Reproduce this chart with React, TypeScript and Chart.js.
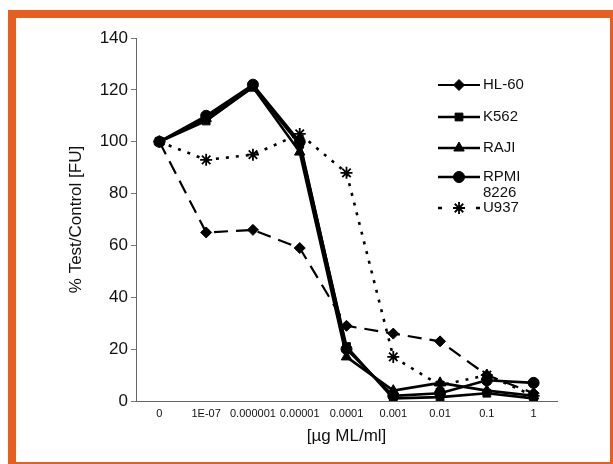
import React, { useEffect, useRef } from "react";
import { Chart, registerables } from "chart.js";
import { drawPoint } from "chart.js/helpers";

Chart.register(...registerables);

const categories = ["0", "1E-07", "0.000001", "0.00001", "0.0001", "0.001", "0.01", "0.1", "1"];
const seriesNames = ["HL-60", "K562", "RAJI", "RPMI\n8226", "U937"];
const hl60 = [100, 65, 66, 59, 29, 26, 23, 10, 3];
const k562 = [100, 108, 121, 99, 21, 1, 1.5, 3, 1];
const raji = [100, 109, 121, 96, 17, 4, 7, 4, 2];
const rpmi = [100, 110, 122, 100, 20, 2, 3, 8, 7];
const u937 = [100, 93, 95, 103, 88, 17, 6, 10, 2];
const yTicks = [0, 20, 40, 60, 80, 100, 120, 140];

const FONT = "'Liberation Sans', Arial, sans-serif";

const legendPlugin = {
  id: "customLegend",
  afterDraw(chart: any) {
    const ctx = chart.ctx;
    const rows = [85, 117, 148, 177, 208];
    const x0 = 438;
    const x1 = 480;
    ctx.save();
    chart.data.datasets.forEach((ds: any, i: number) => {
      const y = rows[i];
      ctx.save();
      ctx.strokeStyle = ds.borderColor;
      ctx.lineWidth = ds.borderWidth;
      ctx.setLineDash([]);
      ctx.beginPath();
      if (i === 4) {
        ctx.moveTo(x0, y);
        ctx.lineTo(x0 + 4, y);
        ctx.moveTo(x1 - 4, y);
        ctx.lineTo(x1, y);
      } else {
        ctx.moveTo(x0, y);
        ctx.lineTo(x1, y);
      }
      ctx.stroke();
      ctx.restore();
      ctx.save();
      ctx.fillStyle = ds.pointBackgroundColor;
      ctx.strokeStyle = ds.pointBorderColor;
      ctx.lineWidth = ds.pointBorderWidth;
      drawPoint(ctx, { pointStyle: ds.pointStyle, radius: ds.pointRadius, rotation: 0, borderWidth: ds.pointBorderWidth }, (x0 + x1) / 2, y);
      ctx.restore();
      ctx.fillStyle = "#111";
      ctx.font = "15px " + FONT;
      ctx.textBaseline = "middle";
      ctx.textAlign = "left";
      const lines = String(seriesNames[i]).split("\n");
      lines.forEach((t, k) => ctx.fillText(t, 483, y + k * 16));
    });
    ctx.restore();
  },
};

export default function App() {
  const ref = useRef<HTMLCanvasElement>(null);
  useEffect(() => {
    if (!ref.current) return;
    const mk = (label: string, data: number[], style: string, dash: number[], width: number, radius: number) => ({
      label,
      data,
      borderColor: "#000",
      backgroundColor: "#000",
      borderWidth: width,
      borderDash: dash,
      pointStyle: style,
      pointRadius: radius,
      pointBackgroundColor: "#000",
      pointBorderColor: "#000",
      pointBorderWidth: style === "star" ? 1.8 : 1,
      tension: 0,
      fill: false,
    });
    const chart = new Chart(ref.current, {
      type: "line",
      data: {
        labels: categories,
        datasets: [
          mk("HL-60", hl60, "rectRot", [14, 8], 2.2, 5.5),
          mk("K562", k562, "rect", [], 2.6, 5.5),
          mk("RAJI", raji, "triangle", [], 2.6, 6),
          mk("RPMI 8226", rpmi, "circle", [], 2.6, 5.5),
          mk("U937", u937, "star", [3, 7], 2.6, 6),
        ],
      },
      options: {
        animation: false,
        responsive: false,
        maintainAspectRatio: false,
        layout: { padding: { left: 16, right: 56, top: 38, bottom: 0 } },
        plugins: { legend: { display: false }, tooltip: { enabled: false } },
        scales: {
          x: {
            type: "category",
            offset: true,
            afterFit: (s: any) => { s.height = 63; },
            grid: { display: false, drawTicks: false },
            border: { display: true, color: "#666", width: 1, dash: [1, 1] },
            ticks: { autoSkip: false, maxRotation: 0, minRotation: 0, padding: 6, color: "#111", font: { size: 11, family: FONT } },
            title: { display: true, text: "[µg ML/ml]", color: "#111", font: { size: 17, family: FONT }, padding: { top: 0, bottom: 17 } },
          },
          y: {
            min: 0,
            max: 140,
            afterFit: (s: any) => { s.width = 120; },
            afterBuildTicks: (s: any) => { s.ticks = yTicks.map((v) => ({ value: v })); },
            grid: { display: true, drawOnChartArea: false, drawTicks: true, tickLength: 5, color: "#777" },
            border: { display: true, color: "#666", width: 1, dash: [1, 1] },
            ticks: { padding: 3, color: "#111", font: { size: 17, family: FONT } },
            title: { display: true, text: "% Test/Control [FU]", color: "#111", font: { size: 17, family: FONT }, padding: { top: 50, bottom: 0 } },
          },
        },
      },
      plugins: [legendPlugin],
    });
    return () => chart.destroy();
  }, []);
  return (
    <div style={{ position: "absolute", left: 0, top: 0, width: 613, height: 464, background: "#fff" }}>
      <div
        style={{
          position: "absolute",
          left: 8,
          top: 10,
          width: 613 - 8 - 8 - 3,
          height: 464 - 10 - 8 - 2,
          borderLeft: "8px solid #E65F20",
          borderTop: "8px solid #E65F20",
          borderRight: "3px solid #E65F20",
          borderBottom: "2px solid #E65F20",
        }}
      />
      <canvas ref={ref} width={613} height={464} style={{ position: "absolute", left: 0, top: 0, width: 613, height: 464 }} />
    </div>
  );
}
